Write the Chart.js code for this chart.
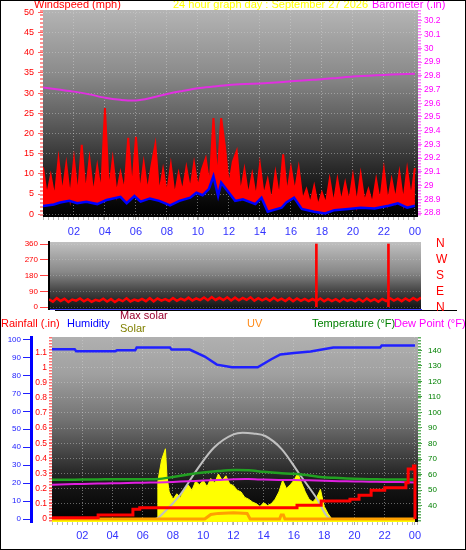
<!DOCTYPE html>
<html>
<head>
<meta charset="utf-8">
<title>24 hour graph</title>
<script src="https://cdn.jsdelivr.net/npm/chart.js@4.4.1/dist/chart.umd.min.js"></script>
<style>
  html, body { margin: 0; padding: 0; background: #fff; }
  #page { position: relative; width: 466px; height: 550px; overflow: hidden; background: #fff;
          font-family: "Liberation Sans", Arial, sans-serif; }
  #frame { position: absolute; left: 0; top: 0; width: 466px; height: 550px; box-sizing: border-box;
           border: 1px solid #000; z-index: 5; }
  canvas { position: absolute; left: 0; }
  .lbl { position: absolute; font-size: 11px; line-height: 11px; white-space: nowrap; z-index: 4; }
  #rule { position: absolute; left: 55px; top: 310px; width: 402px; height: 1px; background: #000; }
</style>
</head>
<body>
<div id="page">
  <div id="rule"></div>
  <canvas id="windChart" width="466" height="242" style="top:0"></canvas>
  <canvas id="dirChart" width="466" height="80" style="top:236px"></canvas>
  <canvas id="tempChart" width="466" height="238" style="top:312px"></canvas>

  <div class="lbl" style="left:34px;top:-1px;color:#ff0000">Windspeed (mph)</div>
  <div class="lbl" style="left:173px;top:-1px;color:#ffff00">24 hour graph day : September 27 2026</div>
  <div class="lbl" style="left:372px;top:-1px;color:#ff00ff">Barometer (.in)</div>

  <div class="lbl" style="left:1px;top:318px;color:#ff0000">Rainfall (.in)</div>
  <div class="lbl" style="left:67px;top:318px;color:#0000ff">Humidity</div>
  <div class="lbl" style="left:120px;top:310px;color:#99002e">Max solar</div>
  <div class="lbl" style="left:120px;top:323px;color:#808000">Solar</div>
  <div class="lbl" style="left:247px;top:318px;color:#ff8c1a">UV</div>
  <div class="lbl" style="left:312px;top:318px;color:#008000">Temperature (°F)</div>
  <div class="lbl" style="left:394px;top:318px;color:#ff00ff">Dew Point (°F)</div>
  <div id="frame"></div>
</div>
<script>
// ---------- axis ticks ----------
var hourTicks  = [2, 4, 6, 8, 10, 12, 14, 16, 18, 20, 22, 24];
var hourLabels = ['02', '04', '06', '08', '10', '12', '14', '16', '18', '20', '22', '00'];
var windTicks  = [0, 5, 10, 15, 20, 25, 30, 35, 40, 45, 50];
var baroTicks  = [28.8, 28.9, 29, 29.1, 29.2, 29.3, 29.4, 29.5, 29.6, 29.7, 29.8, 29.9, 30, 30.1, 30.2];
var dirTicks   = [0, 90, 180, 270, 360];
var compassLabels = ['N', 'E', 'S', 'W', 'N'];
var humTicks   = [0, 10, 20, 30, 40, 50, 60, 70, 80, 90, 100];
var rainTicks  = [0, 0.1, 0.2, 0.3, 0.4, 0.5, 0.6, 0.7, 0.8, 0.9, 1, 1.1];
var tempTicks  = [40, 50, 60, 70, 80, 90, 100, 110, 120, 130, 140];

// ---------- wind (logged every 15 minutes from midnight) ----------
var sampleStep = 0.25;
var gustSpeed = [
  11.6, 4.5, 9.5, 4,     13.5, 5, 12.3, 4.2,    13.5, 4.5, 17.2, 5,    13.5, 4.8, 11.8, 5.2,
  26.3, 5.5, 13.5, 5,    10.2, 5.5, 18.9, 6,    19.2, 5, 12.6, 5.5,    12, 17.2, 5, 11,
  5, 12.2, 4.5, 10,      5.5, 11.5, 6, 12.6,    6.5, 11, 13.8, 7,      23.8, 8, 23.8, 16.4,
  7, 13, 15.6, 5,        11, 4.5, 9.8, 4,       12.2, 4.5, 8.5, 3,     10.2, 4, 14.8, 5,
  11.4, 5.5, 11.4, 3.5,  6.1, 2.5, 6.9, 2,      5.3, 2.5, 8.5, 2.5,    8.5, 3, 7.7, 3,
  9.4, 2.5, 9.8, 3,      6.1, 2.5, 8.5, 3,      11, 3, 8.5, 3.5,       10.2, 3, 11, 4,
  11.4
];
var windDirection = [
  45, 32, 52, 36,  48, 30, 44, 38,  50, 34, 46, 31,  42, 36, 49, 33,
  47, 30, 45, 35,  51, 33, 44, 37,  48, 35, 52, 34,  50, 38, 47, 36,
  53, 37, 49, 40,  55, 39, 51, 41,  56, 40, 58, 42,  54, 41, 57, 39,
  55, 40, 53, 42,  57, 38, 52, 40,  51, 37, 54, 38,  49, 36, 52, 35,
  50, 37, 48, 35,  47, 36, 50, 34,  48, 35, 46, 33,  49, 36, 45, 34,
  47, 33, 50, 35,  46, 32, 48, 36,  52, 38, 49, 35,  50, 37, 53, 40,
  55
];
var dirSpikeHours  = [17.25, 21.9];
var dirSpikeValues = [360, 360];

var avgHours = [0, 0.7, 1.1, 1.7, 2.2, 2.8, 3.5, 4.1, 5, 5.4, 5.9, 6.3, 6.9, 7.5, 8.2, 8.8, 9.5, 9.9,
                10.3, 10.7, 11, 11.3, 11.5, 12, 12.4, 12.9, 13.7, 14.1, 14.5, 15.4, 15.7, 16.2, 16.7,
                17.5, 18.2, 18.8, 19.7, 20.5, 21.4, 22.3, 22.9, 23.5, 24];
var avgSpeed = [2.0, 2.4, 2.9, 3.3, 2.7, 3.1, 2.5, 3.5, 4.3, 2.7, 4.5, 3.1, 3.9, 3.3, 2.2, 3.3, 4.1, 5.3,
                4.7, 6.2, 9.4, 4.5, 7.8, 5.3, 3.3, 3.7, 2.5, 4.1, 0.6, 1.6, 2.9, 4.1, 1.3,
                0.6, 0.2, 1, 1.3, 1.6, 1.4, 2.1, 2.7, 1.6, 2.1];

// ---------- hourly readings ----------
var hours = [0, 1, 2, 3, 4, 5, 6, 7, 8, 9, 10, 11, 12, 13, 14, 15, 16, 17, 18, 19, 20, 21, 22, 23, 24];
var barometer = [29.715, 29.70, 29.685, 29.665, 29.64, 29.625, 29.62, 29.64, 29.668, 29.69, 29.71, 29.722,
                 29.733, 29.74, 29.745, 29.752, 29.76, 29.768, 29.775, 29.785, 29.795, 29.80, 29.807, 29.812, 29.815];
var temperature = [56.7, 56.7, 56.8, 56.9, 57.0, 57.0, 57.0, 57.1, 58.5, 60.0, 61.3, 62.3, 63.0,
                   62.8, 61.8, 61.0, 60.5, 59.5, 58.3, 57.8, 57.3, 57.0, 56.9, 56.8, 56.8];
var dewPoint = [53.5, 53.8, 54, 54.2, 54.4, 54.6, 54.8, 55, 55.3, 55.7, 56.2, 56.6, 57,
                57.1, 56.8, 56.6, 56.5, 56.3, 56, 55.8, 55.6, 55.4, 55.3, 55.2, 55];

var humHours  = [0, 1.5, 1.6, 4.2, 4.3, 5.5, 5.6, 7.8, 7.9, 9.1, 10.1, 10.9, 11.9, 13.6, 14.5, 15.1, 16.0, 17.1, 18.6, 21.7, 21.8, 24];
var humidity  = [94.6, 94.6, 93.5, 93.5, 94, 94, 95.5, 95.5, 94.4, 94.4, 90.5, 86, 84.5, 84.5, 89, 91.7, 92.5, 93.3, 95.5, 95.5, 96.7, 96.7];

var rainHours = [0, 3.05, 5.35, 5.8, 16.2, 17.8, 19.7, 20.3, 21.1, 22, 23.4, 23.55, 23.9, 24];
var rainfall  = [0.009, 0.026, 0.064, 0.075, 0.09, 0.119, 0.13, 0.156, 0.19, 0.207, 0.24, 0.33, 0.35, 0];

var uvHours = [0, 10.1, 10.5, 11, 12, 12.9, 13.1, 15.05, 15.15, 15.3, 15.4, 24];
var uvIndex = [0, 0, 0.4, 0.5, 0.55, 0.5, 0, 0, 0.35, 0.35, 0, 0];

var maxSolarHours = [0, 6.8, 7.5, 8.5, 9.6, 10.7, 12, 12.6, 13.3, 14.1, 15.2, 16.3, 17.4, 18.45, 24];
var maxSolar      = [0, 0, 45, 137, 276, 396, 470, 479, 475, 461, 387, 257, 128, 0, 0];

var solarHours = [0, 6.95, 7.0, 7.25, 7.5, 7.6, 7.75, 8.0, 8.25, 8.5, 8.75, 9.0, 9.25, 9.5, 9.75,
                  10.0, 10.25, 10.5, 10.75, 11.0, 11.25, 11.5, 11.75, 12.0, 12.25, 12.5, 12.75,
                  13.0, 13.25, 13.5, 13.75, 14.0, 14.25, 14.5, 14.75, 15.0, 15.25, 15.5, 15.75,
                  16.0, 16.25, 16.5, 16.75, 17.0, 17.25, 17.5, 17.75, 18.0, 18.25, 18.5, 24];
var solar      = [0, 0, 210, 330, 390, 240, 150, 110, 140, 120, 170, 190, 160, 210, 190,
                  215, 180, 225, 200, 250, 215, 240, 195, 185, 160, 150, 120,
                  110, 95, 85, 70, 90, 75, 85, 110, 150, 215, 170, 190,
                  215, 255, 200, 150, 110, 95, 120, 165, 70, 30, 0, 0];

// ---------- helpers ----------
var FONT = '"Liberation Sans", Arial, sans-serif';

function pts(xs, ys) { return xs.map(function (x, i) { return { x: x, y: ys[i] }; }); }
function samples(ys) { return ys.map(function (y, i) { return { x: i * sampleStep, y: y }; }); }
function fixTicks(list) { return function (s) { s.ticks = list.map(function (v) { return { value: v }; }); }; }
function fixWidth(w) { return function (s) { s.width = w; s.paddingTop = 0; s.paddingBottom = 0; }; }
function fixHeight(h) { return function (s) { s.height = h; s.paddingLeft = 0; s.paddingRight = 0; }; }
function asText(v) { return String(v); }

// gradient panel background
Chart.register({
  id: 'panelBg',
  beforeDraw: function (chart, args, opts) {
    if (!opts.stops) return;
    var a = chart.chartArea, ctx = chart.ctx;
    var g = ctx.createLinearGradient(0, a.top, 0, a.bottom);
    opts.stops.forEach(function (s) { g.addColorStop(s[0], s[1]); });
    ctx.save();
    ctx.fillStyle = g;
    ctx.fillRect(a.left, a.top, a.right - a.left, a.bottom - a.top);
    ctx.restore();
  }
});

// dashed axis rails (the small minor ticks)
Chart.register({
  id: 'axisDash',
  afterDraw: function (chart, args, opts) {
    var ctx = chart.ctx;
    (opts.lines || []).forEach(function (l) {
      var s = chart.scales[l.scale];
      ctx.save();
      ctx.strokeStyle = l.color;
      ctx.lineWidth = l.width;
      ctx.setLineDash(l.dash);
      ctx.beginPath();
      if (s.isHorizontal()) {
        var y = s.top + l.width / 2;
        ctx.moveTo(s.left, y); ctx.lineTo(s.right, y);
      } else {
        var x = s.position === 'left' ? s.right - l.width / 2 : s.left + l.width / 2;
        ctx.moveTo(x, s.top); ctx.lineTo(x, s.bottom);
      }
      ctx.stroke();
      ctx.restore();
    });
  }
});

var hourAxis = function (h, pad) {
  return {
    type: 'linear', min: 0, max: 24.2, offset: false,
    afterBuildTicks: fixTicks(hourTicks), afterFit: fixHeight(h),
    ticks: { callback: function (v, i) { return hourLabels[i]; }, color: '#3333ff',
             font: { family: FONT, size: 11 }, padding: pad, autoSkip: false, maxRotation: 0 },
    grid: { color: 'rgba(210,210,210,0.5)', tickColor: '#b0b0b0', tickLength: 3 },
    border: { display: false, dash: [1, 2] }
  };
};

// ---------- top: wind speed + barometer ----------
new Chart(document.getElementById('windChart'), {
  type: 'line',
  data: {
    datasets: [
      { label: 'Barometer', data: pts(hours, barometer), yAxisID: 'baro',
        borderColor: '#e030e0', borderWidth: 2, pointRadius: 0, tension: 0.3 },
      { label: 'Wind speed', data: pts(avgHours, avgSpeed), yAxisID: 'wind',
        borderColor: '#0000ff', borderWidth: 2.5, pointRadius: 0 },
      { label: 'Gust', data: samples(gustSpeed), yAxisID: 'wind',
        borderColor: '#ff0000', backgroundColor: '#ff0000', borderWidth: 2, pointRadius: 0, fill: '-1' }
    ]
  },
  options: {
    responsive: false, animation: false, devicePixelRatio: 1,
    layout: { padding: { top: 10, left: 0, right: 0, bottom: 0 } },
    plugins: {
      legend: { display: false }, tooltip: { enabled: false },
      panelBg: { stops: [[0, '#b4b4b4'], [0.3, '#8c8c8c'], [0.55, '#5a5a5a'], [0.8, '#222'], [0.93, '#080808'], [1, '#000']] },
      axisDash: { lines: [
        { scale: 'wind', color: '#ff9090', width: 3, dash: [2, 2] },
        { scale: 'baro', color: '#ff80ff', width: 3, dash: [1.5, 1.5] },
        { scale: 'x', color: '#b8b8b8', width: 3, dash: [1, 4] }
      ] }
    },
    scales: {
      x: hourAxis(25, 5),
      wind: {
        position: 'left', min: -0.7, max: 50.6,
        afterBuildTicks: fixTicks(windTicks), afterFit: fixWidth(43),
        ticks: { color: '#ff0000', font: { family: FONT, size: 9 }, padding: 4, autoSkip: false },
        grid: { color: 'rgba(210,210,210,0.45)', tickColor: '#ff6060', tickLength: 5 },
        border: { display: false, dash: [1, 2] }
      },
      baro: {
        position: 'right', min: 28.771, max: 30.28,
        afterBuildTicks: fixTicks(baroTicks), afterFit: fixWidth(48),
        ticks: { color: '#ff00ff', font: { family: FONT, size: 8.5 }, padding: 2, callback: asText, autoSkip: false },
        grid: { drawOnChartArea: false, tickColor: '#ff60ff', tickLength: 4 },
        border: { display: false }
      }
    }
  }
});

// ---------- middle: wind direction ----------
new Chart(document.getElementById('dirChart'), {
  type: 'line',
  data: {
    datasets: [
      { label: 'Direction', data: samples(windDirection), yAxisID: 'dir',
        borderColor: '#ff0000', borderWidth: 2.5, pointRadius: 0 },
      { type: 'bar', label: 'North', data: pts(dirSpikeHours, dirSpikeValues), yAxisID: 'dir',
        backgroundColor: '#ff0000', barThickness: 2, grouped: false }
    ]
  },
  options: {
    responsive: false, animation: false, devicePixelRatio: 1,
    layout: { padding: { top: 6, left: 0, right: 0, bottom: 0 } },
    plugins: {
      legend: { display: false }, tooltip: { enabled: false },
      panelBg: { stops: [[0, '#c0c0c0'], [0.45, '#888'], [0.75, '#404040'], [1, '#111']] }
    },
    scales: {
      x: { type: 'linear', min: 0, max: 24, offset: false, afterFit: fixHeight(7),
           ticks: { display: false }, grid: { display: false, drawTicks: false },
           border: { display: true, color: '#4040ff', width: 1 } },
      dir: {
        position: 'left', min: -9.7, max: 371.4,
        afterBuildTicks: fixTicks(dirTicks), afterFit: fixWidth(49),
        ticks: { color: '#ff0000', font: { family: FONT, size: 8 }, padding: 2, autoSkip: false },
        grid: { color: 'rgba(220,220,220,0.3)', tickColor: '#ff4040', tickLength: 9 },
        border: { display: true, color: '#000', width: 2, dash: [1, 2] }
      },
      compass: {
        position: 'right', min: -9.7, max: 371.4,
        afterBuildTicks: fixTicks(dirTicks), afterFit: fixWidth(45),
        ticks: { color: '#ff0000', font: { family: FONT, size: 12 }, padding: 15, autoSkip: false,
                 callback: function (v, i) { return compassLabels[i]; } },
        grid: { display: false, drawTicks: false }, border: { display: false }
      }
    }
  }
});

// ---------- bottom: rain, humidity, solar, uv, temperature ----------
new Chart(document.getElementById('tempChart'), {
  type: 'line',
  data: {
    datasets: [
      { label: 'Rainfall', data: pts(rainHours, rainfall), yAxisID: 'rain', stepped: true,
        borderColor: '#ff0000', borderWidth: 3, pointRadius: 0 },
      { label: 'UV', data: pts(uvHours, uvIndex), yAxisID: 'uv',
        borderColor: '#ffa000', borderWidth: 3, pointRadius: 0 },
      { label: 'Humidity', data: pts(humHours, humidity), yAxisID: 'hum',
        borderColor: '#2020ff', borderWidth: 2.5, pointRadius: 0 },
      { label: 'Temperature', data: pts(hours, temperature), yAxisID: 'temp',
        borderColor: '#22a022', borderWidth: 2.5, pointRadius: 0, tension: 0.3 },
      { label: 'Dew Point', data: pts(hours, dewPoint), yAxisID: 'temp',
        borderColor: '#e020e0', borderWidth: 2, pointRadius: 0, tension: 0.3 },
      { label: 'Max solar', data: pts(maxSolarHours, maxSolar), yAxisID: 'solar',
        borderColor: '#c0c0c0', borderWidth: 2, pointRadius: 0, cubicInterpolationMode: 'monotone' },
      { label: 'Solar', data: pts(solarHours, solar), yAxisID: 'solar',
        borderColor: '#ffff00', backgroundColor: '#ffff00', borderWidth: 1, pointRadius: 0, fill: 'start' }
    ]
  },
  options: {
    responsive: false, animation: false, devicePixelRatio: 1,
    layout: { padding: { top: 25, left: 0, right: 0, bottom: 0 } },
    plugins: {
      legend: { display: false }, tooltip: { enabled: false },
      panelBg: { stops: [[0, '#b0b0b0'], [0.2, '#a0a0a0'], [0.45, '#727272'], [0.63, '#444'], [0.8, '#161616'], [1, '#000']] },
      axisDash: { lines: [
        { scale: 'rain', color: '#ff7070', width: 3, dash: [1.5, 1.5] },
        { scale: 'temp', color: '#60b060', width: 3, dash: [1.5, 1.5] },
        { scale: 'x', color: '#b8b8b8', width: 3, dash: [1, 4] }
      ] }
    },
    scales: {
      x: hourAxis(28, 4),
      hum: {
        position: 'left', weight: 1, min: -1.67, max: 101.4,
        afterBuildTicks: fixTicks(humTicks), afterFit: fixWidth(31),
        ticks: { color: '#2020ff', font: { family: FONT, size: 8 }, padding: 2, autoSkip: false },
        grid: { drawOnChartArea: false, tickColor: '#2020ff', tickLength: 8 },
        border: { display: true, color: '#0000ff', width: 3 }
      },
      rain: {
        position: 'left', weight: 0, min: -0.0198, max: 1.201,
        afterBuildTicks: fixTicks(rainTicks), afterFit: fixWidth(21),
        ticks: { color: '#ff0000', font: { family: FONT, size: 8.5 }, padding: 2, callback: asText, autoSkip: false },
        grid: { color: 'rgba(210,210,210,0.45)', tickColor: '#ff4040', tickLength: 3 },
        border: { display: false, dash: [1, 2] }
      },
      temp: {
        position: 'right', min: 29.5, max: 148.56,
        afterBuildTicks: fixTicks(tempTicks), afterFit: fixWidth(48),
        ticks: { color: '#008000', font: { family: FONT, size: 8 }, padding: 6, autoSkip: false },
        grid: { drawOnChartArea: false, tickColor: '#40a040', tickLength: 4 },
        border: { display: false }
      },
      solar: { display: false, min: -16.7, max: 1011 },
      uv: { display: false, min: -0.27, max: 16.25 }
    }
  }
});
</script>
</body>
</html>
